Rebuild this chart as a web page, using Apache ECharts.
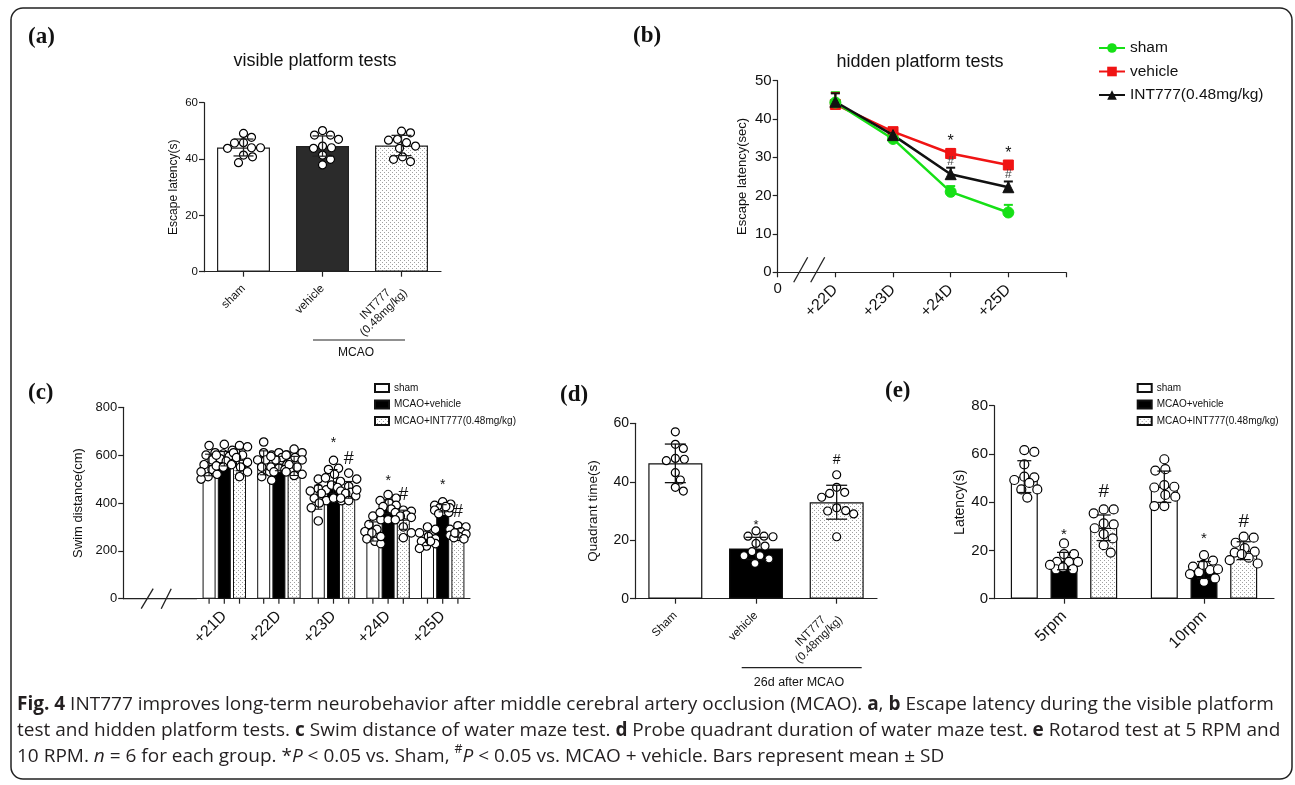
<!DOCTYPE html>
<html>
<head>
<meta charset="utf-8">
<script src="https://cdn.jsdelivr.net/npm/echarts@6.0.0/dist/echarts.min.js"></script>
<style>
html,body{margin:0;padding:0;background:#fff;}
#chart{width:1295px;height:785px;}
</style>
</head>
<body>
<div id="chart"></div>
<script>
// ================= DATA =================
// (a) visible platform tests
const groupsA = ['sham', 'vehicle', 'INT777\n(0.48mg/kg)'];
const meanA = [44.1, 44.6, 44.8];
const sdA = [3.0, 3.6, 3.6];
const pointsAsham = [47.7, 49.1, 45.7, 43.8, 44.0, 45.8, 44.0, 41.4, 40.8, 38.7];
const pointsAvehicle = [47.0, 50.1, 48.5, 48.5, 44.6, 44.0, 43.8, 41.4, 39.9, 37.9];
const pointsAint = [49.3, 49.9, 46.7, 43.8, 44.6, 45.8, 47.0, 40.8, 39.1, 39.9];

// (b) hidden platform tests
const daysB = ['+22D', '+23D', '+24D', '+25D'];
const shamB = [44.3, 34.8, 21.0, 15.6];
const shamSdB = [2.7, 1.0, 1.5, 2.0];
const vehicleB = [43.8, 36.7, 31.0, 28.0];
const vehicleSdB = [3.0, 0.8, 1.2, 1.0];
const intB = [44.5, 35.8, 25.6, 22.2];
const intSdB = [2.2, 0.8, 1.7, 1.5];
const starB = [null, null, 35.4, 32.3];
const hashB = [null, null, 28.8, 25.6];

// (c) swim distance
const daysC = ['+21D', '+22D', '+23D', '+24D', '+25D'];
const shamC = [559, 568, 424, 281, 252];
const shamSdC = [45, 50, 50, 40, 30];
const vehicleC = [585, 565, 490, 385, 378];
const vehicleSdC = [30, 30, 50, 30, 15];
const intC = [580, 555, 455, 330, 275];
const intSdC = [45, 40, 35, 40, 18];
const pointsCsham = [
  [640, 610, 600, 580, 560, 540, 520, 510, 500, 530],
  [655, 610, 600, 580, 570, 550, 530, 510, 495, 580],
  [500, 460, 455, 440, 420, 410, 400, 380, 325, 450],
  [345, 330, 310, 290, 280, 275, 250, 240, 230, 260],
  [300, 290, 275, 260, 250, 240, 230, 220, 210, 240]
];
const pointsCvehicle = [
  [645, 620, 605, 595, 585, 575, 565, 555, 550, 600],
  [610, 600, 590, 580, 560, 550, 545, 540, 530, 595],
  [578, 545, 540, 520, 505, 490, 475, 465, 420, 410],
  [435, 420, 410, 400, 390, 385, 375, 360, 350, 330],
  [405, 395, 390, 380, 370, 365, 360, 355, 380, 385]
];
const pointsCint = [
  [640, 635, 610, 600, 590, 570, 550, 530, 510, 560],
  [625, 610, 600, 590, 580, 560, 550, 530, 520, 515],
  [525, 500, 470, 450, 445, 440, 430, 420, 410, 455],
  [370, 365, 360, 350, 345, 340, 330, 300, 275, 255],
  [305, 300, 290, 280, 270, 265, 260, 255, 250, 275]
];
const starC = [null, null, 666, 507, 492];
const hashC = [null, null, 583, 434, 364];

// (d) probe quadrant time
const groupsD = ['Sham', 'vehicle', 'INT777\n(0.48mg/kg)'];
const meanD = [46.3, 17.2, 33.0];
const sdD = [6.6, 3.8, 5.8];
const pointsDsham = [57.1, 52.8, 51.4, 48.0, 47.2, 47.7, 43.1, 40.6, 36.8, 38.1];
const pointsDvehicle = [23.2, 21.4, 21.2, 21.4, 18.0, 18.9, 16.1, 14.7, 12.1, 13.6, 14.7];
const pointsDint = [42.4, 38.1, 36.4, 34.7, 36.0, 31.1, 30.0, 29.0, 30.1, 21.2];
const starD = [null, 26.4, null];
const hashD = [null, null, 47.5];

// (e) rotarod
const speedsE = ['5rpm', '10rpm'];
const shamE = [50.6, 46.4];
const shamSdE = [6.6, 6.5];
const vehicleE = [15.6, 11.9];
const vehicleSdE = [3.6, 3.5];
const intE = [29.4, 19.9];
const intSdE = [5.3, 3.7];
const pointsEsham = [
  [61.6, 60.9, 55.7, 50.6, 50.3, 49.2, 45.3, 45.3, 41.9, 48.0],
  [57.8, 53.1, 53.7, 46.1, 47.1, 46.4, 42.3, 43.0, 38.4, 38.4]
];
const pointsEvehicle = [
  [22.9, 18.5, 18.5, 15.3, 15.3, 15.3, 12.2, 12.2, 14.0, 13.0],
  [18.1, 15.8, 13.3, 11.9, 12.2, 10.2, 8.4, 7.0, 11.0, 14.0]
];
const pointsEint = [
  [37.0, 37.0, 35.4, 30.8, 29.2, 26.8, 31.2, 19.1, 22.2, 25.0],
  [25.3, 23.2, 25.7, 19.5, 19.1, 16.0, 14.6, 21.0, 17.0, 18.5]
];
const starE = [28.5, 26.7];
const hashE = [44.4, 31.9];

const seriesNamesB = ['sham', 'vehicle', 'INT777(0.48mg/kg)'];
const seriesNamesCE = ['sham', 'MCAO+vehicle', 'MCAO+INT777(0.48mg/kg)'];

// ================= LAYOUT / STYLE =================
const FF = '"Liberation Sans", Arial, Helvetica, sans-serif';
const SERIF = '"Liberation Serif", "Times New Roman", serif';
const CAPF = '"Open Sans", "Liberation Sans", sans-serif';
const AX = '#222';
const TXT = '#111';

const G = {
  a: {left: 204, top: 102.7, width: 237, height: 169},
  b: {left: 777.7, top: 80.7, width: 288.3, height: 191.6},
  c: {left: 197, top: 407.3, width: 273, height: 191.4},
  d: {left: 635, top: 423.3, width: 242, height: 175.4},
  e: {left: 994, top: 405.7, width: 280, height: 193}
};
const C_AXIS_X = 123.2; // where the (c) y axis sits

function dotPattern() {
  const c = document.createElement('canvas');
  c.width = 4; c.height = 4;
  const g = c.getContext('2d');
  g.fillStyle = '#fff'; g.fillRect(0, 0, 4, 4);
  g.fillStyle = '#a0a0a0';
  g.fillRect(0, 0, 1, 1); g.fillRect(2, 2, 1, 1);
  return {image: c, repeat: 'repeat'};
}
const DOTS = dotPattern();

// simple deterministic beeswarm: horizontal pixel offsets so circles overlap less
function swarm(values, pxPerUnit, r, maxSpread) {
  const order = values.map((v, i) => i).sort((a, b) => values[b] - values[a]);
  const placed = [];
  const off = new Array(values.length).fill(0);
  const minD = 2 * r * 1.1;
  for (const i of order) {
    const y = values[i] * pxPerUnit;
    let best = 0, bestScore = -Infinity;
    for (let k = 0; k <= 2 * maxSpread; k++) {
      const dx = (k % 2 ? 1 : -1) * Math.ceil(k / 2);
      let dmin = Infinity;
      for (const p of placed) {
        const d = Math.hypot(p.x - dx, p.y - y);
        if (d < dmin) dmin = d;
      }
      if (dmin >= minD) { best = dx; break; }
      if (dmin > bestScore) { bestScore = dmin; best = dx; }
    }
    placed.push({x: best, y: y});
    off[i] = best;
  }
  return off;
}

function pointsSeries(xi, yi, groups, pxPerUnit, r, spread) {
  const data = [];
  groups.forEach(g => {
    const dx = swarm(g.values, pxPerUnit, r, spread);
    g.values.forEach((v, k) => {
      data.push({value: [g.cat, v], symbolOffset: [g.off + dx[k], 0]});
    });
  });
  return {
    type: 'scatter', xAxisIndex: xi, yAxisIndex: yi, silent: true, z: 5,
    symbol: 'circle', symbolSize: 2 * r,
    itemStyle: {color: '#fff', borderColor: '#000', borderWidth: 1.2, opacity: 1},
    data: data
  };
}

function errorBars(xi, yi, rows, opt) {
  return {
    type: 'custom', xAxisIndex: xi, yAxisIndex: yi, silent: true, z: opt.z || 6, clip: false,
    data: rows,
    renderItem: function (params, api) {
      const x = api.value(0), m = api.value(1), s = api.value(2);
      const top = api.coord([x, m + s]);
      const bot = api.coord([x, opt.upOnly ? m : m - s]);
      const cx = top[0] + (opt.offset || 0);
      const mk = () => ({stroke: opt.color || '#000', lineWidth: opt.lw || 1.3});
      const ch = [
        {type: 'line', shape: {x1: cx, y1: top[1], x2: cx, y2: bot[1]}, style: mk()},
        {type: 'line', shape: {x1: cx - opt.cap / 2, y1: top[1], x2: cx + opt.cap / 2, y2: top[1]}, style: mk()}
      ];
      if (!opt.upOnly) {
        ch.push({type: 'line', shape: {x1: cx - opt.cap / 2, y1: bot[1], x2: cx + opt.cap / 2, y2: bot[1]}, style: mk()});
      }
      return {type: 'group', children: ch};
    }
  };
}

function annotations(xi, yi, items) {
  return {
    type: 'custom', xAxisIndex: xi, yAxisIndex: yi, silent: true, z: 8, clip: false,
    data: items.map(a => [a.x, a.y]),
    renderItem: function (params, api) {
      const a = items[params.dataIndex];
      const p = api.coord([api.value(0), api.value(1)]);
      const dy = a.text === '*' ? a.size * 0.3 : 0;
      return {
        type: 'text', x: p[0] + (a.off || 0), y: p[1] + dy,
        style: {text: a.text, fontSize: a.size, fontFamily: FF, fill: a.color || TXT, align: 'center', verticalAlign: 'middle'}
      };
    }
  };
}
function marks(arr, text, size, off, xShift, color) {
  const out = [];
  arr.forEach((v, i) => { if (v != null) out.push({x: i + (xShift || 0), y: v, text: text, size: size, off: off || 0, color: color}); });
  return out;
}

function catX(gridIndex, data, fontSize, opt) {
  opt = opt || {};
  const ax = {
    type: 'category', gridIndex: gridIndex, data: data,
    axisLine: {lineStyle: {color: AX, width: 1.2}},
    axisTick: {show: opt.ticks !== false, alignWithLabel: true, length: 5, lineStyle: {color: AX, width: 1.2}},
    axisLabel: {rotate: 45, interval: 0, fontSize: fontSize, fontFamily: FF, color: TXT, margin: opt.margin || 15},
    splitLine: {show: false}
  };
  if (opt.centerLines) {
    ax.axisLabel.formatter = v => v.indexOf('\n') >= 0 ? v.split('\n').map(s => '{c|' + s + '}').join('\n') : v;
    ax.axisLabel.rich = {c: {width: opt.centerLines, align: 'center', fontSize: fontSize, fontFamily: FF, color: TXT}};
  }
  return ax;
}
function valY(gridIndex, max, interval, name, fontSize, nameSize, nameGap, offset) {
  return {
    type: 'value', gridIndex: gridIndex, min: 0, max: max, interval: interval,
    name: name, nameLocation: 'middle', nameGap: nameGap,
    nameTextStyle: {fontSize: nameSize, fontFamily: FF, color: TXT},
    axisLine: {show: true, lineStyle: {color: AX, width: 1.2}},
    axisTick: {show: true, length: 5, lineStyle: {color: AX, width: 1.2}},
    axisLabel: {fontSize: fontSize, fontFamily: FF, color: TXT, margin: 6},
    splitLine: {show: false},
    offset: offset || 0
  };
}
function grid(g) {
  return {left: g.left, top: g.top, width: g.width, height: g.height, containLabel: false, outerBoundsMode: 'none'};
}

// ================= AXES =================
const xAxes = [
  catX(0, groupsA, 11.5, {centerLines: 62}),                          // 0 (a)
  {                                                                    // 1 (b)
    type: 'value', gridIndex: 1, min: 0, max: 5, interval: 1, position: 'bottom',
    axisLine: {lineStyle: {color: AX, width: 1.2}},
    axisTick: {length: 5, lineStyle: {color: AX, width: 1.2}},
    axisLabel: {rotate: 45, fontSize: 16, fontFamily: FF, color: TXT, margin: 15,
      formatter: v => (v >= 1 && v <= daysB.length) ? daysB[v - 1] : ''},
    splitLine: {show: false}
  },
  {                                                                    // 2 (b) origin "0"
    type: 'value', gridIndex: 1, min: 0, max: 5, interval: 1, position: 'bottom',
    axisLine: {show: false}, axisTick: {show: false},
    axisLabel: {fontSize: 15, fontFamily: FF, color: TXT, margin: 9, formatter: v => v === 0 ? '0' : ''},
    splitLine: {show: false}
  },
  catX(2, daysC, 16, {ticks: false}),                                  // 3 (c)
  catX(3, groupsD, 11.5, {centerLines: 62}),                           // 4 (d)
  catX(4, speedsE, 16)                                                 // 5 (e)
];
const yAxes = [
  valY(0, 60, 20, 'Escape latency(s)', 11.5, 12, 24.5),
  valY(1, 50, 10, 'Escape latency(sec)', 15, 13, 28.5),
  valY(2, 800, 200, 'Swim distance(cm)', 13, 13, 38, G.c.left - C_AXIS_X),
  valY(3, 60, 20, 'Quadrant time(s)', 14, 13.5, 35),
  valY(4, 80, 20, 'Latency(s)', 15, 14, 27)
];

// ================= SERIES =================
const series = [];

// ---- (a)
const fillsA = ['#fff', '#2b2b2b', DOTS];
series.push({
  type: 'bar', name: 'a-bars', xAxisIndex: 0, yAxisIndex: 0, barWidth: 53, z: 2,
  itemStyle: {borderColor: '#222', borderWidth: 1.2},
  data: meanA.map((m, i) => ({value: m, itemStyle: {color: fillsA[i]}}))
});
series.push(pointsSeries(0, 0, [
  {cat: 0, off: 0, values: pointsAsham},
  {cat: 1, off: 0, values: pointsAvehicle},
  {cat: 2, off: 0, values: pointsAint}
], G.a.height / 60, 4, 17));
series.push(errorBars(0, 0, meanA.map((m, i) => [i, m, sdA[i]]), {cap: 20, color: '#222'}));

// ---- (b)
const colorsB = ['#16e016', '#f01414', '#111'];
const symbolsB = ['circle', 'rect', 'triangle'];
const linesB = [shamB, vehicleB, intB];
const sdsB = [shamSdB, vehicleSdB, intSdB];
linesB.forEach((arr, k) => {
  series.push(errorBars(1, 1, arr.map((m, i) => [i + 1, m, sdsB[k][i]]), {cap: 9, color: colorsB[k], upOnly: true, z: 2, lw: 2}));
});
linesB.forEach((arr, k) => {
  series.push({
    type: 'line', name: seriesNamesB[k], xAxisIndex: 1, yAxisIndex: 1, z: 3 + (k === 1 ? 0 : 1),
    data: arr.map((v, i) => [i + 1, v]),
    symbol: symbolsB[k], symbolSize: k === 1 ? 10 : 11,
    lineStyle: {color: colorsB[k], width: 2.5},
    itemStyle: {color: colorsB[k], borderColor: colorsB[k]}
  });
});
series.push(annotations(1, 1, marks(starB, '*', 16, 0, 1).concat(marks(hashB, '#', 12, 0, 1, '#444'))));

// ---- (c)
const CW = 13, CGAP = 0.17, CSTEP = CW * (1 + CGAP);
const fillsCE = ['#fff', '#000', DOTS];
const meansC = [shamC, vehicleC, intC];
const sdsC = [shamSdC, vehicleSdC, intSdC];
const ptsC = [pointsCsham, pointsCvehicle, pointsCint];
meansC.forEach((arr, k) => {
  series.push({
    type: 'bar', name: 'c|' + seriesNamesCE[k], xAxisIndex: 3, yAxisIndex: 2, barWidth: CW, barGap: (CGAP * 100) + '%', z: 2,
    itemStyle: {color: fillsCE[k], borderColor: '#111', borderWidth: 1}, data: arr
  });
});
{
  const groups = [];
  ptsC.forEach((byDay, k) => byDay.forEach((vals, i) => groups.push({cat: i, off: (k - 1) * CSTEP, values: vals})));
  series.push(pointsSeries(3, 2, groups, G.c.height / 800, 4.2, 8));
}
meansC.forEach((arr, k) => {
  series.push(errorBars(3, 2, arr.map((m, i) => [i, m, sdsC[k][i]]), {cap: 8, offset: (k - 1) * CSTEP, color: '#111', lw: 1.1}));
});
series.push({ // ticks under every bar of (c)
  type: 'custom', xAxisIndex: 3, yAxisIndex: 2, silent: true, clip: false, z: 3,
  data: daysC.map((d, i) => [i, 0]),
  renderItem: function (params, api) {
    const p = api.coord([api.value(0), 0]);
    return {type: 'group', children: [-1, 0, 1].map(k => ({
      type: 'line', shape: {x1: p[0] + k * CSTEP, y1: p[1], x2: p[0] + k * CSTEP, y2: p[1] + 5},
      style: {stroke: AX, lineWidth: 1.2}
    }))};
  }
});
series.push(annotations(3, 2, marks(starC, '*', 14, 0).concat(marks(hashC, '#', 18, CSTEP))));

// ---- (d)
series.push({
  type: 'bar', name: 'd-bars', xAxisIndex: 4, yAxisIndex: 3, barWidth: 54, z: 2,
  itemStyle: {borderColor: '#111', borderWidth: 1.2},
  data: meanD.map((m, i) => ({value: m, itemStyle: {color: fillsCE[i]}}))
});
series.push(pointsSeries(4, 3, [
  {cat: 0, off: 0, values: pointsDsham},
  {cat: 1, off: 0, values: pointsDvehicle},
  {cat: 2, off: 0, values: pointsDint}
], G.d.height / 60, 4, 17));
series.push(errorBars(4, 3, meanD.map((m, i) => [i, m, sdD[i]]), {cap: 21, color: '#111'}));
series.push(annotations(4, 3, marks(starD, '*', 13, 0).concat(marks(hashD, '#', 14, 0))));

// ---- (e)
const EW = 27, EGAP = 0.47, ESTEP = EW * (1 + EGAP);
const meansE = [shamE, vehicleE, intE];
const sdsE = [shamSdE, vehicleSdE, intSdE];
const ptsE = [pointsEsham, pointsEvehicle, pointsEint];
meansE.forEach((arr, k) => {
  series.push({
    type: 'bar', name: 'e|' + seriesNamesCE[k], xAxisIndex: 5, yAxisIndex: 4, barWidth: EW, barGap: (EGAP * 100) + '%', z: 2,
    itemStyle: {color: fillsCE[k], borderColor: '#111', borderWidth: 1.2}, data: arr
  });
});
{
  const groups = [];
  ptsE.forEach((bySpeed, k) => bySpeed.forEach((vals, i) => groups.push({cat: i, off: (k - 1) * ESTEP, values: vals})));
  series.push(pointsSeries(5, 4, groups, G.e.height / 80, 4.5, 14));
}
meansE.forEach((arr, k) => {
  series.push(errorBars(5, 4, arr.map((m, i) => [i, m, sdsE[k][i]]), {cap: 14, offset: (k - 1) * ESTEP, color: '#111'}));
});
series.push(annotations(5, 4, marks(starE, '*', 15, 0).concat(marks(hashE, '#', 19, ESTEP))));

// ================= LEGENDS =================
const legendBox = (left, prefix) => ({
  orient: 'vertical', left: left, top: 377, icon: 'rect', itemWidth: 14, itemHeight: 8, itemGap: 4.5,
  selectedMode: false,
  data: seriesNamesCE.map(n => prefix + n),
  formatter: n => n.slice(2),
  textStyle: {fontSize: 10, fontFamily: FF, color: TXT, lineHeight: 12}
});
const legends = [
  {
    orient: 'vertical', left: 1093, top: 35, itemWidth: 26, itemHeight: 12, itemGap: 7.5, selectedMode: false,
    data: seriesNamesB,
    textStyle: {fontSize: 15.5, fontFamily: FF, color: TXT}
  },
  legendBox(369, 'c|'),
  legendBox(1131.7, 'e|')
];

// ================= CAPTION (fit width with canvas measurement) =================
const capLines = [
  [['Fig. 4', 'b'], [' INT777 improves long-term neurobehavior after middle cerebral artery occlusion (MCAO). ', ''], ['a', 'b'], [', ', ''], ['b', 'b'], [' Escape latency during the visible platform', '']],
  [['test and hidden platform tests. ', ''], ['c', 'b'], [' Swim distance of water maze test. ', ''], ['d', 'b'], [' Probe quadrant duration of water maze test. ', ''], ['e', 'b'], [' Rotarod test at 5 RPM and', '']],
  [['10 RPM. ', ''], ['n', 'i'], [' = 6 for each group. *', ''], ['P', 'i'], [' < 0.05 vs. Sham, ', ''], ['#', 's'], ['P', 'i'], [' < 0.05 vs. MCAO + vehicle. Bars represent mean ± SD', '']]
];
const mctx = document.createElement('canvas').getContext('2d');
function lineWidthAt(segs, size) {
  let w = 0;
  segs.forEach(([t, k]) => {
    const fs = k === 's' ? size * 0.65 : size;
    mctx.font = (k === 'i' ? 'italic ' : '') + (k === 'b' ? 'bold ' : '') + fs + 'px ' + CAPF;
    w += mctx.measureText(t).width;
  });
  return w;
}
const CAP_LEFT = 17, CAP_TARGET = 1262;
let capSize = CAP_TARGET / lineWidthAt(capLines[0], 100) * 100;
capSize = Math.max(14, Math.min(19, capSize));
const capYs = [705, 731, 757];
const capRich = {
  b: {fontWeight: 'bold', fontSize: capSize, fontFamily: CAPF, fill: '#231f20'},
  i: {fontStyle: 'italic', fontSize: capSize, fontFamily: CAPF, fill: '#231f20'},
  s: {fontSize: capSize * 0.65, fontFamily: CAPF, fill: '#231f20', verticalAlign: 'top', lineHeight: capSize * 0.7}
};
const captionGraphics = capLines.map((segs, li) => ({
  type: 'text', left: CAP_LEFT, top: capYs[li] - capSize * 0.7, silent: true,
  style: {
    text: segs.map(([t, k]) => k ? '{' + k + '|' + t + '}' : t).join(''),
    rich: capRich, fontSize: capSize, fontFamily: CAPF, fill: '#231f20', lineHeight: capSize * 1.4
  }
}));

// ================= DECORATION GRAPHICS =================
function gText(x, y, text, size, opt) {
  opt = opt || {};
  return {
    type: 'text', x: x, y: y, silent: true, z: 100,
    style: {text: text, fontSize: size, fontFamily: opt.family || FF, fontWeight: opt.weight || 'normal',
      fill: opt.color || TXT, align: opt.align || 'center', verticalAlign: 'middle'}
  };
}
function gLine(x1, y1, x2, y2, w) {
  return {type: 'line', silent: true, z: 100, shape: {x1: x1, y1: y1, x2: x2, y2: y2}, style: {stroke: AX, lineWidth: w || 1.2}};
}
const bBase = G.b.top + G.b.height, cBase = G.c.top + G.c.height;
const graphics = [
  {type: 'rect', silent: true, z: 0, shape: {x: 11, y: 8, width: 1281, height: 771, r: 12},
    style: {fill: 'none', stroke: '#222', lineWidth: 1.5}},
  gText(28, 37, '(a)', 23, {family: SERIF, weight: 'bold', align: 'left'}),
  gText(633, 36, '(b)', 23, {family: SERIF, weight: 'bold', align: 'left'}),
  gText(28, 393, '(c)', 23, {family: SERIF, weight: 'bold', align: 'left'}),
  gText(560, 395, '(d)', 23, {family: SERIF, weight: 'bold', align: 'left'}),
  gText(885, 391, '(e)', 23, {family: SERIF, weight: 'bold', align: 'left'}),
  gText(315, 61, 'visible platform tests', 18),
  gText(920, 62, 'hidden platform tests', 18),
  gLine(313, 340, 405, 340),
  gText(356, 353, 'MCAO', 12),
  gLine(741.7, 667.7, 861.7, 667.7),
  gText(799, 683, '26d after MCAO', 12.5),
  // axis-break slashes (b)
  gLine(G.b.left + 16, bBase + 10, G.b.left + 30, bBase - 15, 1.3),
  gLine(G.b.left + 33, bBase + 10, G.b.left + 47, bBase - 15, 1.3),
  // (c) x-axis line running from the y axis to the first band, with break slashes
  gLine(C_AXIS_X, cBase, G.c.left, cBase, 1.2),
  gLine(C_AXIS_X + 18, cBase + 10, C_AXIS_X + 30, cBase - 10, 1.3),
  gLine(C_AXIS_X + 38, cBase + 10, C_AXIS_X + 48, cBase - 10, 1.3)
].concat(captionGraphics);

// ================= CHART =================
const chart = echarts.init(document.getElementById('chart'), null, {renderer: 'canvas'});
chart.setOption({
  animation: false,
  backgroundColor: '#fff',
  textStyle: {fontFamily: FF},
  grid: [grid(G.a), grid(G.b), grid(G.c), grid(G.d), grid(G.e)],
  xAxis: xAxes,
  yAxis: yAxes,
  legend: legends,
  series: series,
  graphic: graphics
});
</script>
</body>
</html>
